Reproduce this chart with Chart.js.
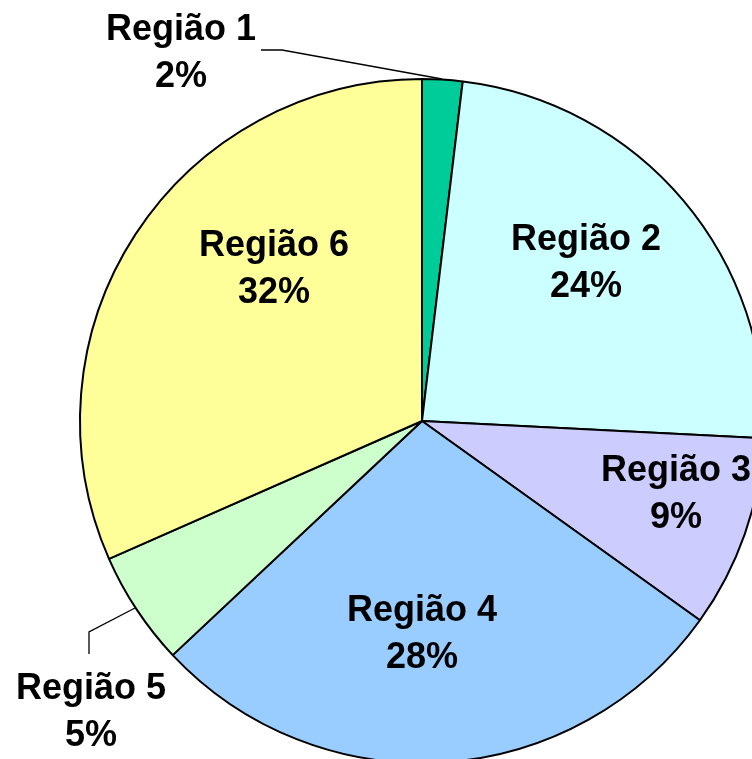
<!DOCTYPE html>
<html>
<head>
<meta charset="utf-8">
<script src="https://cdn.jsdelivr.net/npm/chart.js@4/dist/chart.umd.min.js"></script>
<style>
  html, body { margin: 0; padding: 0; background: #fff; overflow: hidden; width: 752px; height: 759px; }
  #wrap { position: absolute; left: 0; top: 0; }
</style>
</head>
<body>
<div id="wrap"><canvas id="pieChart" width="844" height="844"></canvas></div>
<script>
// data (share of total, %)
const regions = ['Região 1', 'Região 2', 'Região 3', 'Região 4', 'Região 5', 'Região 6'];
const shares = [1.9, 23.9, 9.1, 28.1, 5.4, 31.6];
const sliceColors = ['#00CC99', '#CCFFFF', '#CCCCFF', '#99CCFF', '#CCFFCC', '#FFFF99'];

// label anchors, offset from the pie centre (px)
const labelPos = [[-241, -394], [164, -184], [254, 47], [0, 187], [-331, 265], [-148, -178]];
// leader lines for the two outside labels
const leaders = {
  0: [[-161, -371], [-140, -371], [20, -342]],
  4: [[-333, 233], [-333, 211], [-287, 187]]
};

const labelPlugin = {
  id: 'sliceLabels',
  afterDatasetsDraw(chart) {
    const ctx = chart.ctx;
    const arc = chart.getDatasetMeta(0).data[0];
    const cx = arc.x, cy = arc.y;
    ctx.save();
    ctx.strokeStyle = '#000';
    ctx.lineWidth = 1.3;
    Object.keys(leaders).forEach((k) => {
      const pts = leaders[k];
      ctx.beginPath();
      ctx.moveTo(cx + pts[0][0], cy + pts[0][1]);
      for (let i = 1; i < pts.length; i++) ctx.lineTo(cx + pts[i][0], cy + pts[i][1]);
      ctx.stroke();
    });
    ctx.fillStyle = '#000';
    ctx.font = 'bold 36px "Liberation Sans", Arial, sans-serif';
    ctx.textAlign = 'center';
    ctx.textBaseline = 'alphabetic';
    regions.forEach((name, i) => {
      const x = cx + labelPos[i][0];
      const y = cy + labelPos[i][1];
      ctx.fillText(name, x, y + 13);
      ctx.fillText(Math.round(shares[i]) + '%', x, y + 60);
    });
    ctx.restore();
  }
};

new Chart(document.getElementById('pieChart'), {
  type: 'pie',
  data: {
    labels: regions,
    datasets: [{
      data: shares,
      backgroundColor: sliceColors,
      borderColor: '#000',
      borderWidth: 2
    }]
  },
  options: {
    responsive: false,
    animation: false,
    events: [],
    layout: { padding: { left: 79, right: 79, top: 78, bottom: 80 } },
    plugins: {
      legend: { display: false },
      tooltip: { enabled: false }
    }
  },
  plugins: [labelPlugin]
});
</script>
</body>
</html>
